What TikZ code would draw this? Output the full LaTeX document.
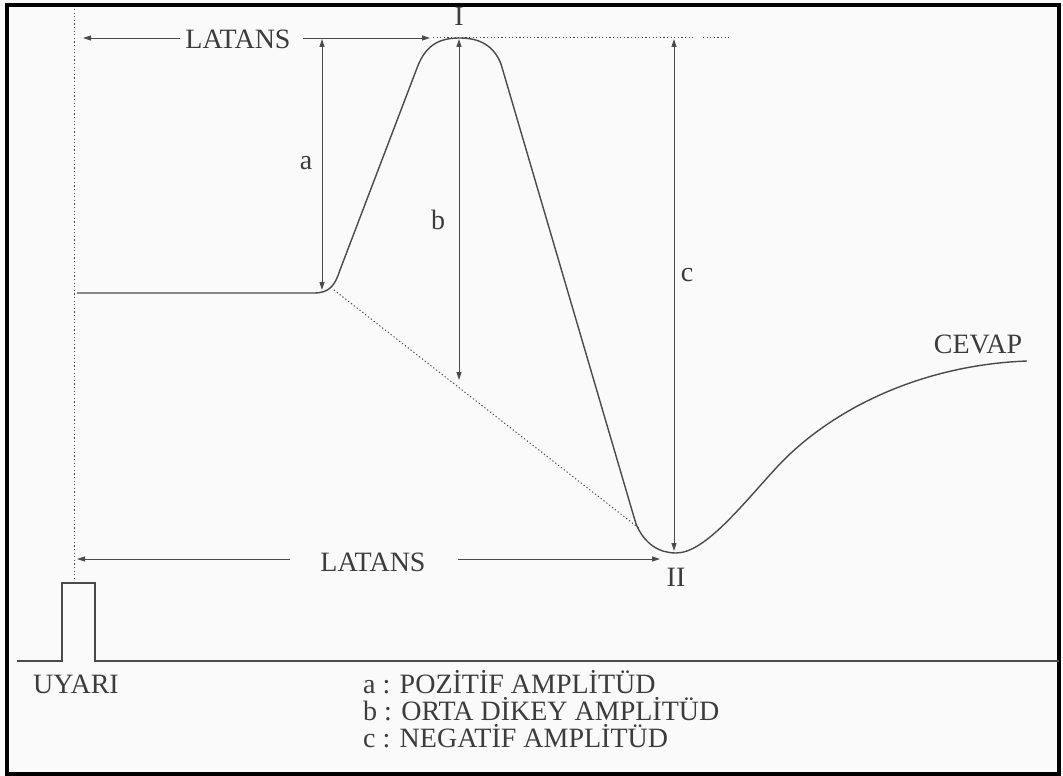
\documentclass[tikz,border=0pt]{standalone}
\usepackage{fontspec}
\setmainfont{Liberation Serif}
\usetikzlibrary{arrows.meta}
\definecolor{linec}{HTML}{4A4A4A}
\definecolor{txtc}{HTML}{3C3C3C}
\definecolor{bgc}{HTML}{FAFAFA}
\tikzset{
  wave/.style={draw=linec, line width=1.4pt, line join=round},
  dimline/.style={draw=linec, line width=0.9pt},
  dotline/.style={draw=linec, line width=1pt, dash pattern=on 1.2pt off 2.4pt},
  lbl/.style={text=txtc, font=\fontsize{28}{32}\selectfont, inner sep=0pt},
  >={Triangle[length=8pt,width=5pt]}
}
\begin{document}
\begin{tikzpicture}[x=1pt,y=-1pt]
\useasboundingbox (0,0) rectangle (1063,776);
\fill[bgc] (0,0) rectangle (1063,776);
\draw[line width=3.5pt, black] (7,5) rectangle (1059,774);

% vertical dotted marker at stimulus onset
\coordinate (vT) at (74,9);
\coordinate (vB) at (74,580);
\draw[dotline] (vT) -- (vB);

% horizontal dotted line at peak level
\coordinate (hA) at (433,38);
\coordinate (hB) at (694,38);
\coordinate (hC) at (703,38);
\coordinate (hD) at (731,38);
\draw[dotline] (hA) -- (hB);
\draw[dotline] (hC) -- (hD);

% response waveform
\draw[wave] (77,293) -- (314,293)
  .. controls (330,293) and (335,285) .. (340,270)
  -- (417,68)
  .. controls (426,44) and (440,38) .. (460,38)
  .. controls (480,38) and (494,46) .. (501,64)
  -- (636,524)
  .. controls (645,545) and (660,553) .. (676,553)
  .. controls (705,553) and (742,505) .. (777,467)
  .. controls (830,410) and (920,365) .. (1027,361);

% dotted line from baseline corner to trough
\coordinate (dS) at (334,290);
\coordinate (dE) at (640,529);
\draw[dotline] (dS) -- (dE);

% amplitude arrows
\coordinate (aT) at (322,39);
\coordinate (aB) at (322,290);
\draw[dimline,<->] (aT) -- (aB);
\coordinate (bT) at (459,39);
\coordinate (bB) at (459,380);
\draw[dimline,<->] (bT) -- (bB);
\coordinate (cT) at (674,39);
\coordinate (cB) at (674,551);
\draw[dimline,<->] (cT) -- (cB);

\node[lbl] (la) at (306,163) {a};
\node[lbl] (lb) at (438,220) {b};
\node[lbl] (lc) at (687,275) {c};

% top latency
\node[lbl] (lat1) at (238,39) {LATANS};
\coordinate (t1L) at (83,38);
\coordinate (t1a) at (180,38);
\coordinate (t1b) at (303,38);
\coordinate (t1R) at (430,38);
\draw[dimline,<-] (t1L) -- (t1a);
\draw[dimline,->] (t1b) -- (t1R);

% bottom latency
\node[lbl] (lat2) at (373,562) {LATANS};
\coordinate (t2L) at (77,559);
\coordinate (t2a) at (290,559);
\coordinate (t2b) at (458,559);
\coordinate (t2R) at (660,559);
\draw[dimline,<-] (t2L) -- (t2a);
\draw[dimline,->] (t2b) -- (t2R);

\node[lbl] (pI) at (459,16) {I};
\node[lbl] (pII) at (676,577) {II};
\node[lbl] (cev) at (978,344) {CEVAP};

% stimulus
\draw[line width=1.2pt, draw=linec] (17,661) -- (62,661) -- (62,583) -- (95,583) -- (95,661) -- (1059,661);
\node[lbl] (uy) at (76,684) {UYARI};

% legend
\node[lbl, anchor=base west] (lg1) at (363,693) {a : POZİTİF AMPLİTÜD};
\node[lbl, anchor=base west] (lg2) at (363,720) {b : ORTA DİKEY AMPLİTÜD};
\node[lbl, anchor=base west] (lg3) at (363,747) {c : NEGATİF AMPLİTÜD};
\end{tikzpicture}
\end{document}
